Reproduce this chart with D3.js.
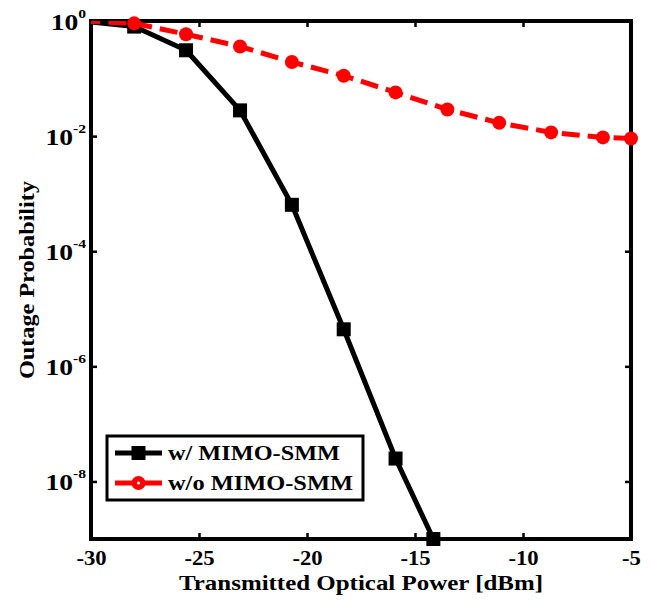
<!DOCTYPE html>
<html>
<head>
<meta charset="utf-8">
<script src="https://cdn.jsdelivr.net/npm/d3@7"></script>
<style>
  html, body { margin: 0; padding: 0; background: #fff; }
  svg { display: block; }
  text { font-family: "Liberation Serif", "Times New Roman", serif; font-weight: bold; fill: #000; }
</style>
</head>
<body>
<svg id="chart" width="652" height="600"></svg>
<script>
// Transmitted optical power (dBm) and outage probability for each scheme
const powerWith = [-30.4, -28, -25.6, -23.1, -20.7, -18.3, -15.9, -14.15];
const outageWith = [1, 0.8, 0.31, 0.028, 6.4e-4, 4.4e-6, 2.5e-8, 1e-9];

const powerWithout = [-30.4, -28, -25.6, -23.1, -20.7, -18.3, -15.9, -13.5, -11.1, -8.7, -6.3, -5];
const outageWithout = [1, 0.91, 0.59, 0.36, 0.194, 0.112, 0.0575, 0.029, 0.017, 0.0116, 0.0095, 0.0091];

const xTicks = [-30, -25, -20, -15, -10, -5];
const yTickExponents = [0, -2, -4, -6, -8];

const seriesNames = ["w/ MIMO-SMM", "w/o MIMO-SMM"];
const xTitle = "Transmitted Optical Power [dBm]";
const yTitle = "Outage Probability";

const svg = d3.select("#chart");
const plot = { left: 91, right: 631, top: 21, bottom: 539 };

const x = d3.scaleLinear().domain([-30, -5]).range([plot.left, plot.right]);
const y = d3.scaleLog().domain([1e-9, 1]).range([plot.bottom, plot.top]);

svg.append("defs").append("clipPath").attr("id", "plotClip")
  .append("rect")
  .attr("x", plot.left).attr("y", plot.top)
  .attr("width", plot.right - plot.left).attr("height", plot.bottom - plot.top);

// Axes with inward ticks on all four sides
const tickLen = 6;
const bottomAxis = svg.append("g").attr("transform", `translate(0,${plot.bottom})`)
  .call(d3.axisBottom(x).tickValues(xTicks).tickSizeInner(-tickLen).tickSizeOuter(0).tickFormat(d => String(d)));
const topAxis = svg.append("g").attr("transform", `translate(0,${plot.top})`)
  .call(d3.axisTop(x).tickValues(xTicks).tickSizeInner(-tickLen).tickSizeOuter(0).tickFormat(""));
const yTickVals = yTickExponents.map(e => Math.pow(10, e));
const leftAxis = svg.append("g").attr("transform", `translate(${plot.left},0)`)
  .call(d3.axisLeft(y).tickValues(yTickVals).tickSizeInner(-tickLen).tickSizeOuter(0).tickFormat(""));
const rightAxis = svg.append("g").attr("transform", `translate(${plot.right},0)`)
  .call(d3.axisRight(y).tickValues(yTickVals).tickSizeInner(-tickLen).tickSizeOuter(0).tickFormat(""));

[bottomAxis, topAxis, leftAxis, rightAxis].forEach(g => {
  g.select(".domain").remove();
  g.selectAll(".tick line").attr("stroke", "#000").attr("stroke-width", 2.5);
});

const xLabelStretch = 1.08;
bottomAxis.selectAll(".tick text")
  .attr("font-size", 21)
  .attr("dy", null)
  .attr("y", 26)
  .attr("transform", `scale(${xLabelStretch},1)`);

// Power-of-ten labels on the y axis
const yLabelStretch = 1.2;
leftAxis.selectAll(".tick").each(function(d) {
  const exp = Math.round(Math.log10(d));
  const t = d3.select(this).append("text")
    .attr("text-anchor", "end")
    .attr("transform", `scale(${yLabelStretch},1)`)
    .attr("x", -5 / yLabelStretch)
    .attr("y", 8);
  t.append("tspan").attr("font-size", 23).text("10");
  t.append("tspan").attr("font-size", 13).attr("dy", -12).text(String(exp));
});

// Plot frame
svg.append("rect")
  .attr("x", plot.left).attr("y", plot.top)
  .attr("width", plot.right - plot.left).attr("height", plot.bottom - plot.top)
  .attr("fill", "none").attr("stroke", "#000").attr("stroke-width", 4);

const line = d3.line().x(d => x(d[0])).y(d => y(d[1]));
const inDomain = d => d[0] >= -30 && d[0] <= -5;

const withPts = powerWith.map((p, i) => [p, outageWith[i]]);
const withoutPts = powerWithout.map((p, i) => [p, outageWithout[i]]);

// w/ MIMO-SMM: solid black with squares
svg.append("path").datum(withPts)
  .attr("clip-path", "url(#plotClip)")
  .attr("d", line).attr("fill", "none")
  .attr("stroke", "#000").attr("stroke-width", 5).attr("stroke-linejoin", "round");
const sq = 14;
svg.append("g").selectAll("rect").data(withPts.filter(inDomain)).join("rect")
  .attr("x", d => x(d[0]) - sq / 2).attr("y", d => y(d[1]) - sq / 2)
  .attr("width", sq).attr("height", sq).attr("fill", "#000");

// w/o MIMO-SMM: dashed red with circles
svg.append("path").datum(withoutPts)
  .attr("clip-path", "url(#plotClip)")
  .attr("d", line).attr("fill", "none")
  .attr("stroke", "#ff0000").attr("stroke-width", 5).attr("stroke-dasharray", "18,8");
svg.append("g").selectAll("circle").data(withoutPts.filter(inDomain)).join("circle")
  .attr("cx", d => x(d[0])).attr("cy", d => y(d[1]))
  .attr("r", 7).attr("fill", "#ff0000");

// Axis titles
svg.append("text")
  .attr("x", (plot.left + plot.right) / 2).attr("y", 590)
  .attr("text-anchor", "middle").attr("font-size", 21)
  .attr("textLength", 364).attr("lengthAdjust", "spacingAndGlyphs")
  .text(xTitle);

svg.append("text")
  .attr("transform", `translate(34,${(plot.top + plot.bottom) / 2}) rotate(-90)`)
  .attr("text-anchor", "middle").attr("font-size", 22)
  .attr("textLength", 198).attr("lengthAdjust", "spacingAndGlyphs")
  .text(yTitle);

// Legend
const legend = svg.append("g");
legend.append("rect")
  .attr("x", 107).attr("y", 436).attr("width", 256).attr("height", 64)
  .attr("fill", "#fff").attr("stroke", "#000").attr("stroke-width", 3);
const legendRows = [
  { name: seriesNames[0], color: "#000", marker: "square", y: 453, width: 172 },
  { name: seriesNames[1], color: "#ff0000", marker: "circle", y: 483, width: 185 }
];
legendRows.forEach(r => {
  legend.append("line")
    .attr("x1", 115).attr("x2", 162).attr("y1", r.y).attr("y2", r.y)
    .attr("stroke", r.color).attr("stroke-width", 5);
  if (r.marker === "square") {
    legend.append("rect").attr("x", 138.5 - 7).attr("y", r.y - 7)
      .attr("width", 14).attr("height", 14).attr("fill", r.color);
  } else {
    legend.append("circle").attr("cx", 138.5).attr("cy", r.y).attr("r", 7).attr("fill", r.color);
    legend.append("circle").attr("cx", 138.5).attr("cy", r.y).attr("r", 1.5).attr("fill", "#fff");
  }
  legend.append("text")
    .attr("x", 168).attr("y", r.y + 7)
    .attr("font-size", 21)
    .attr("textLength", r.width).attr("lengthAdjust", "spacingAndGlyphs")
    .text(r.name);
});
</script>
</body>
</html>
